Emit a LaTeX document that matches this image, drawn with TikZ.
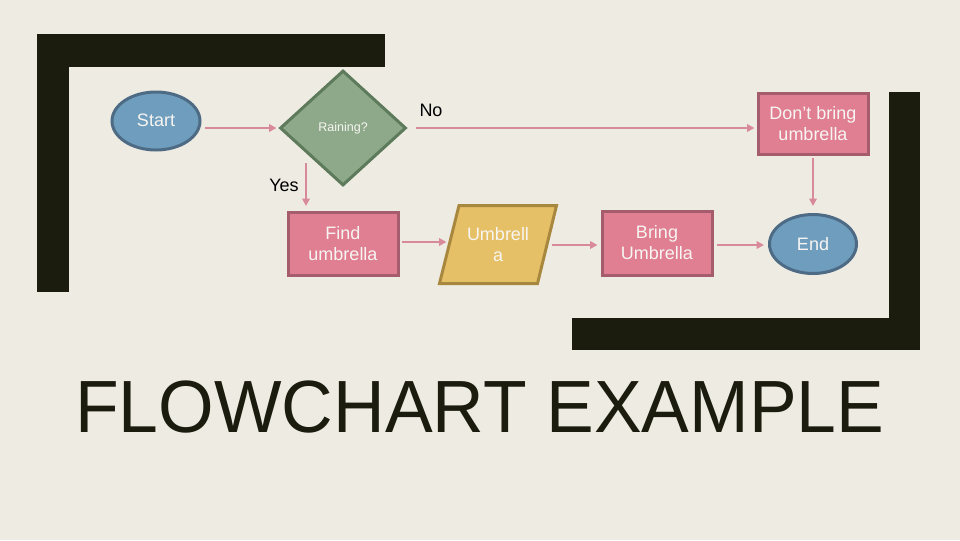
\documentclass[tikz,border=0pt]{standalone}
\usepackage{fontspec}
\setmainfont{Liberation Sans}
\usetikzlibrary{shapes.geometric,arrows.meta,calc}
\definecolor{bg}{HTML}{EEEBE3}
\definecolor{dark}{HTML}{1B1B0E}
\definecolor{pinkfill}{HTML}{E07E92}
\definecolor{pinkline}{HTML}{A55C6D}
\definecolor{bluefill}{HTML}{6F9DBD}
\definecolor{blueline}{HTML}{4E6B85}
\definecolor{greenfill}{HTML}{8DA98A}
\definecolor{greenline}{HTML}{5D7A5A}
\definecolor{yellowfill}{HTML}{E6C067}
\definecolor{yellowline}{HTML}{A8883E}
\definecolor{arrowcol}{HTML}{D98A9A}
\definecolor{shapetext}{HTML}{F7F5F2}
\tikzset{
  base/.style={line width=2.25pt, inner sep=0pt, text=shapetext, align=center,
    font=\fontsize{13.5pt}{15.75pt}\selectfont},
  terminal/.style={base, ellipse, draw=blueline, fill=bluefill},
  process/.style={base, rectangle, draw=pinkline, fill=pinkfill},
  decision/.style={base, diamond, draw=greenline, fill=greenfill,
    font=\fontsize{9.4pt}{11pt}\selectfont},
  iotext/.style={base, rectangle},
  ioshape/.style={line width=2.25pt, line join=miter, draw=yellowline, fill=yellowfill},
  lbl/.style={inner sep=0pt, text=black, font=\fontsize{13.5pt}{15.75pt}\selectfont},
  arr/.style={draw=arrowcol, line width=1.5pt, -{Triangle[length=5.5pt,width=5.5pt]}},
}
\begin{document}
\begin{tikzpicture}[x=0.75pt, y=-0.75pt]
\fill[bg] (0,0) rectangle (960,540);
\useasboundingbox (0,0) rectangle (960,540);
% brackets
\fill[dark] (37,34) rectangle (385,67);
\fill[dark] (37,34) rectangle (69,292);
\fill[dark] (889,92) rectangle (920,350);
\fill[dark] (572,318) rectangle (920,350);
% parallelogram shape
\draw[ioshape] (439.5,283.5) -- (459,205.5) -- (556.5,205.5) -- (537.5,283.5) -- cycle;
% nodes
\node[terminal, minimum width=88*0.75pt, minimum height=58*0.75pt] (start) at (156,121) {\raisebox{1.5pt}{Start}};
\node[decision, minimum width=126*0.75pt, minimum height=115*0.75pt] (dia) at (343,128) {Raining?};
\node[process, minimum width=110*0.75pt, minimum height=61*0.75pt] (dont) at (813,124) {Don’t bring\\umbrella};
\node[process, minimum width=110*0.75pt, minimum height=63*0.75pt] (find) at (343,244) {Find\\umbrella};
\node[iotext, minimum width=100*0.75pt, minimum height=78*0.75pt] (para) at (498,245) {Umbrell\\a};
\node[process, minimum width=110*0.75pt, minimum height=64*0.75pt] (bring) at (657,243) {Bring\\Umbrella};
\node[terminal, minimum width=87*0.75pt, minimum height=59*0.75pt] (end) at (813,244) {End};
\node[lbl] (no) at (431,110) {No};
\node[lbl] (yes) at (284,185) {Yes};
\coordinate (yesstart) at (306,163);
% connectors
\draw[arr] ($(start.east |- dia.west)+(3,0)$) -- ($(dia.west)+(-2,0)$);
\draw[arr] ($(dia.east)+(8,0)$) -- ($(dont.west |- dia.east)+(-2,0)$);
\draw[arr] (yesstart) -- ($(yesstart |- find.north)+(0,-5)$);
\draw[arr] ($(find.east)+(2,-2)$) -- ($(para.west |- find.east)+(0,-2)$);
\draw[arr] ($(para.east)+(2,0)$) -- ($(bring.west |- para.east)+(-3,0)$);
\draw[arr] ($(bring.east)+(3,2)$) -- ($(end.west)+(-4,1)$);
\draw[arr] ($(dont.south)+(0,2)$) -- ($(end.north)+(0,-7)$);
% title
\node[anchor=base west, inner sep=0pt, text=dark, font=\fontsize{55.5pt}{60pt}\selectfont] (title) at (75,432) {\scalebox{0.966}[1]{FLOWCHART EXAMPLE}};
\end{tikzpicture}
\end{document}
